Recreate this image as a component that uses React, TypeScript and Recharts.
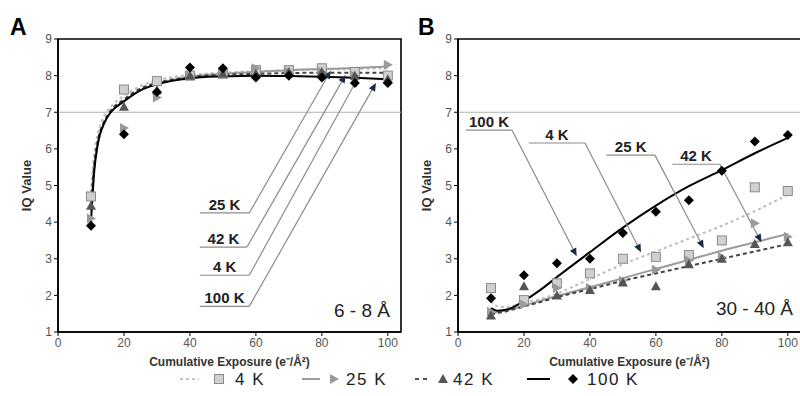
import React from 'react'
import {
  ComposedChart,
  Line,
  Scatter,
  XAxis,
  YAxis,
  ReferenceLine,
  ReferenceArea
} from 'recharts'

const FONT = '"Liberation Sans", Arial, sans-serif'

// measured exposures (e-/Å²)
const exposure = [10, 20, 30, 40, 50, 60, 70, 80, 90, 100]
// points along the drawn trend curves
const fitExposure = [10, 11, 12, 14, 16, 20, 25, 30, 40, 50, 60, 70, 80, 90, 100]

const xTicks = [0, 20, 40, 60, 80, 100]
const yTicks = [1, 2, 3, 4, 5, 6, 7, 8, 9]

// Panel A: 6 - 8 Å
const a4K = [4.7, 7.62, 7.85, 8.0, 8.05, 8.15, 8.15, 8.2, 8.1, 8.0]
const a25K = [4.1, 6.57, 7.4, 8.0, 8.1, 8.2, 8.1, 8.1, 8.0, 8.3]
const a42K = [4.45, 7.15, 7.6, 8.0, 8.05, 8.05, 8.1, 8.1, 8.0, 7.9]
const a100K = [3.9, 6.4, 7.55, 8.22, 8.2, 7.95, 8.0, 7.95, 7.8, 7.8]

const aFit4K = [4.8, 5.9, 6.4, 6.9, 7.15, 7.45, 7.72, 7.87, 8.02, 8.08, 8.12, 8.15, 8.17, 8.18, 8.2]
const aFit25K = [4.3, 5.5, 6.1, 6.7, 7.0, 7.3, 7.6, 7.77, 7.97, 8.05, 8.1, 8.15, 8.18, 8.21, 8.25]
const aFit42K = [4.4, 5.6, 6.2, 6.75, 7.05, 7.35, 7.65, 7.8, 7.96, 8.02, 8.05, 8.07, 8.08, 8.08, 8.08]
const aFit100K = [4.0, 5.4, 6.1, 6.7, 7.0, 7.3, 7.6, 7.76, 7.93, 7.98, 8.0, 7.99, 7.97, 7.94, 7.9]

// Panel B: 30 - 40 Å
const b4K = [2.2, 1.87, 2.33, 2.6, 3.0, 3.05, 3.1, 3.5, 4.95, 4.85]
const b25K = [1.55, 1.75, 2.2, 2.2, 2.4, 2.7, 2.95, 3.05, 3.97, 3.6]
const b42K = [1.45, 2.25, 2.0, 2.15, 2.35, 2.25, 2.85, 3.0, 3.4, 3.45]
const b100K = [1.92, 2.55, 2.88, 3.0, 3.7, 4.28, 4.6, 5.4, 6.2, 6.38]

const bFit4K = [1.85, 1.75, 1.7, 1.68, 1.7, 1.8, 1.9, 2.05, 2.45, 2.85, 3.2, 3.55, 3.9, 4.3, 4.75]
const bFit25K = [1.55, 1.53, 1.55, 1.58, 1.62, 1.72, 1.85, 1.98, 2.22, 2.47, 2.72, 2.97, 3.22, 3.45, 3.68]
const bFit42K = [1.5, 1.5, 1.52, 1.55, 1.6, 1.7, 1.82, 1.95, 2.17, 2.4, 2.6, 2.8, 3.0, 3.2, 3.4]
const bFit100K = [1.65, 1.6, 1.58, 1.6, 1.65, 1.85, 2.15, 2.5, 3.18, 3.85, 4.45, 4.98, 5.42, 5.88, 6.3]

const seriesNames = ['4 K', '25 K', '42 K', '100 K']

// leader annotations: underline [x1, x2, y] and arrow tip [x, y], in data units
const aNotes = [
  { label: '25 K', line: [43, 58, 4.25], tip: [82.7, 8.13] },
  { label: '42 K', line: [43, 57.3, 3.32], tip: [87.2, 8.02] },
  { label: '4 K', line: [43, 58, 2.55], tip: [90.9, 7.93] },
  { label: '100 K', line: [43, 58, 1.7], tip: [96.4, 7.8] }
]
const bNotes = [
  { label: '100 K', line: [2.4, 16.4, 6.51], tip: [36, 3.07] },
  { label: '4 K', line: [21.5, 38.5, 6.16], tip: [55.5, 3.18] },
  { label: '25 K', line: [45, 59.7, 5.83], tip: [74.5, 3.29] },
  { label: '42 K', line: [65, 79.4, 5.58], tip: [92, 3.45] }
]

const rows = (xs: number[], ys: number[]) => xs.map((x, i) => ({ x, y: ys[i] }))

const Square = (p: any) => (
  <rect x={p.cx - 4.5} y={p.cy - 4.5} width={9} height={9} fill="#d0d0d0" stroke="#8a8a8a" strokeWidth={1} />
)
const RightTri = (p: any) => (
  <polygon points={`${p.cx - 4},${p.cy - 5} ${p.cx + 5},${p.cy} ${p.cx - 4},${p.cy + 5}`} fill="#9a9a9a" />
)
const UpTri = (p: any) => (
  <polygon points={`${p.cx},${p.cy - 5} ${p.cx + 5},${p.cy + 4} ${p.cx - 5},${p.cy + 4}`} fill="#555" />
)
const Diamond = (p: any) => (
  <polygon points={`${p.cx},${p.cy - 5} ${p.cx + 5},${p.cy} ${p.cx},${p.cy + 5} ${p.cx - 5},${p.cy}`} fill="#000" />
)

const underline = (label: string) => (p: any) => (
  <g>
    <line x1={p.x1} y1={p.y1} x2={p.x2} y2={p.y2} stroke="#8c8c8c" strokeWidth={1.2} />
    <text
      x={(p.x1 + p.x2) / 2}
      y={p.y1 - 3}
      textAnchor="middle"
      fontSize={15}
      fontWeight="bold"
      fontFamily={FONT}
      fill="#222"
    >
      {label}
    </text>
  </g>
)

const arrow = (p: any) => {
  const dx = p.x2 - p.x1
  const dy = p.y2 - p.y1
  const len = Math.sqrt(dx * dx + dy * dy) || 1
  const ux = dx / len
  const uy = dy / len
  const bx = p.x2 - ux * 8
  const by = p.y2 - uy * 8
  const pts = `${p.x2},${p.y2} ${bx - uy * 3.5},${by + ux * 3.5} ${bx + uy * 3.5},${by - ux * 3.5}`
  return (
    <g>
      <line x1={p.x1} y1={p.y1} x2={bx} y2={by} stroke="#8c8c8c" strokeWidth={1.2} />
      <polygon points={pts} fill="#1c2a48" />
    </g>
  )
}

interface PanelProps {
  left: number
  marks: number[][]
  fits: number[][]
  notes: typeof aNotes
}

function Panel({ left, marks, fits, notes }: PanelProps) {
  const fitStyles = [
    { stroke: '#bdbdbd', dash: '3 3', w: 2 },
    { stroke: '#9a9a9a', dash: undefined, w: 2 },
    { stroke: '#444', dash: '4 3', w: 2 },
    { stroke: '#000', dash: undefined, w: 2 }
  ]
  const shapes = [Square, RightTri, UpTri, Diamond]

  return (
    <div style={{ position: 'absolute', left, top: 0 }}>
      <ComposedChart width={404} height={375} margin={{ top: 39, right: 3, left: 18, bottom: 0 }}>
        <XAxis
          dataKey="x"
          type="number"
          domain={[0, 104]}
          ticks={xTicks}
          height={43}
          axisLine={{ stroke: '#000', strokeWidth: 1.5 }}
          tickLine={{ stroke: '#000' }}
          tickSize={4}
          tick={{ fontSize: 12, fill: '#555', fontFamily: FONT }}
          label={{
            value: 'Cumulative Exposure (e⁻/Å²)',
            position: 'insideBottom',
            offset: 9,
            style: { fontSize: 12, fontWeight: 'bold', fill: '#333', fontFamily: FONT }
          }}
        />
        <YAxis
          dataKey="y"
          type="number"
          domain={[1, 9]}
          ticks={yTicks}
          width={40}
          axisLine={{ stroke: '#000', strokeWidth: 1.5 }}
          tickLine={{ stroke: '#000' }}
          tickSize={4}
          tick={{ fontSize: 12, fill: '#555', fontFamily: FONT }}
          label={{
            value: 'IQ Value',
            angle: -90,
            position: 'insideLeft',
            offset: 8,
            style: { textAnchor: 'middle', fontSize: 13, fontWeight: 'bold', fill: '#333', fontFamily: FONT }
          }}
        />
        <ReferenceLine y={7} stroke="#b0b0b0" strokeWidth={1.2} />
        <ReferenceArea x1={0} x2={104} y1={1} y2={9} fill="none" stroke="#000" strokeWidth={1.6} />

        {fits.map((f, i) => (
          <Line
            key={'fit' + i}
            data={rows(fitExposure, f)}
            dataKey="y"
            type="monotone"
            stroke={fitStyles[i].stroke}
            strokeWidth={fitStyles[i].w}
            strokeDasharray={fitStyles[i].dash}
            dot={false}
            activeDot={false}
            name={seriesNames[i] + ' fit'}
            isAnimationActive={false}
          />
        ))}

        {marks.map((m, i) => (
          <Scatter
            key={'pts' + i}
            data={rows(exposure, m)}
            dataKey="y"
            shape={shapes[i]}
            name={seriesNames[i]}
            isAnimationActive={false}
          />
        ))}

        {notes.map((n) => (
          <ReferenceLine
            key={'u' + n.label}
            segment={[
              { x: n.line[0], y: n.line[2] },
              { x: n.line[1], y: n.line[2] }
            ]}
            shape={underline(n.label)}
          />
        ))}
        {notes.map((n) => (
          <ReferenceLine
            key={'a' + n.label}
            segment={[
              { x: n.line[1], y: n.line[2] },
              { x: n.tip[0], y: n.tip[1] }
            ]}
            shape={arrow}
          />
        ))}
      </ComposedChart>
    </div>
  )
}

function Legend() {
  const txt = { fontSize: 17, letterSpacing: 1.5, fill: '#222', fontFamily: FONT }
  const cy = 379
  const by = 385
  return (
    <svg width={800} height={396} style={{ position: 'absolute', left: 0, top: 0, pointerEvents: 'none' }}>
      <text x={10} y={35} fontSize={23} fontWeight="bold" fontFamily={FONT} fill="#000">A</text>
      <text x={418} y={35} fontSize={23} fontWeight="bold" fontFamily={FONT} fill="#000">B</text>
      <text x={390} y={317} fontSize={19} textAnchor="end" fontFamily={FONT} fill="#222">6 - 8 Å</text>
      <text x={793} y={315} fontSize={19} textAnchor="end" fontFamily={FONT} fill="#222">30 - 40 Å</text>

      <line x1={180} y1={cy} x2={199} y2={cy} stroke="#c4c4c4" strokeWidth={2} strokeDasharray="3 3" />
      <Square cx={219} cy={cy} />
      <text x={235} y={by} {...txt}>{seriesNames[0]}</text>

      <line x1={302} y1={cy} x2={320} y2={cy} stroke="#9a9a9a" strokeWidth={2} />
      <RightTri cx={334} cy={cy} />
      <text x={346} y={by} {...txt}>{seriesNames[1]}</text>

      <line x1={415} y1={cy} x2={430} y2={cy} stroke="#555" strokeWidth={2} strokeDasharray="4 4" />
      <UpTri cx={443} cy={cy} />
      <text x={453} y={by} {...txt}>{seriesNames[2]}</text>

      <line x1={527} y1={cy} x2={550} y2={cy} stroke="#000" strokeWidth={2} />
      <Diamond cx={573} cy={cy} />
      <text x={587} y={by} {...txt}>{seriesNames[3]}</text>
    </svg>
  )
}

export default function App() {
  return (
    <div
      style={{
        position: 'absolute',
        left: 0,
        top: 0,
        width: 800,
        height: 396,
        overflow: 'hidden',
        background: '#fff',
        fontFamily: FONT
      }}
    >
      <Panel left={0} marks={[a4K, a25K, a42K, a100K]} fits={[aFit4K, aFit25K, aFit42K, aFit100K]} notes={aNotes} />
      <Panel left={400} marks={[b4K, b25K, b42K, b100K]} fits={[bFit4K, bFit25K, bFit42K, bFit100K]} notes={bNotes} />
      <Legend />
    </div>
  )
}
